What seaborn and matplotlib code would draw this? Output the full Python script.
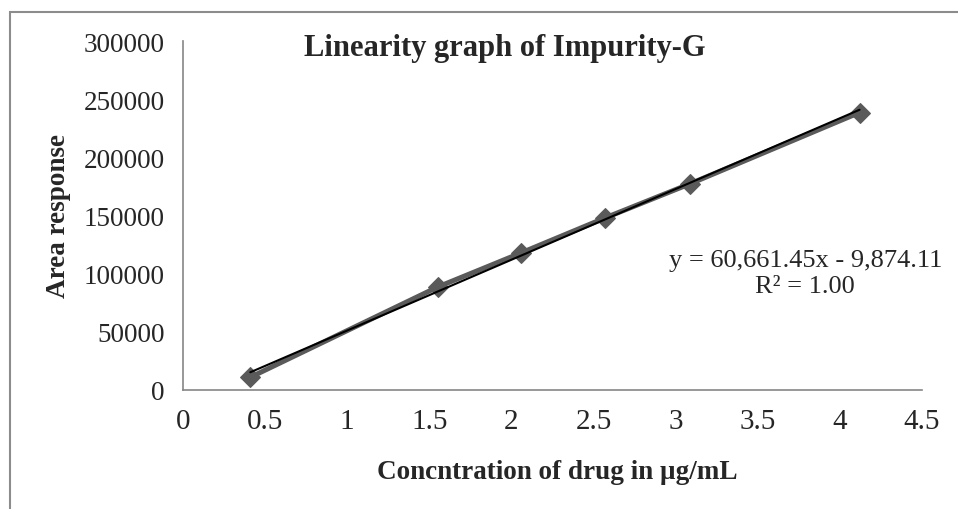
import numpy as np
import pandas as pd
import matplotlib
matplotlib.use("Agg")
import matplotlib.pyplot as plt
import seaborn as sns
from matplotlib.patches import Rectangle

# data
conc = [0.41, 1.55, 2.06, 2.57, 3.09, 4.12]
area = [10700, 88300, 117800, 147800, 177300, 238500]
x_ticks = [0, 0.5, 1, 1.5, 2, 2.5, 3, 3.5, 4, 4.5]
y_ticks = [0, 50000, 100000, 150000, 200000, 250000, 300000]
title = "Linearity graph of Impurity-G"
eq_text = "y = 60,661.45x - 9,874.11\nR\u00b2 = 1.00"

sns.set_style("white")
plt.rcParams['font.family'] = ['Liberation Serif', 'DejaVu Serif']

df = pd.DataFrame({'conc': conc, 'area': area})

fig = plt.figure(figsize=(9.58, 5.10), dpi=100)
ax = fig.add_axes([0.191, 0.2339, 0.7714, 0.6837])

# outer chart frame (cropped on right/bottom)
fig.patches.append(Rectangle((10 / 958, -0.1), 1.2, 1 - 13 / 510 + 0.1,
                             transform=fig.transFigure, fill=False,
                             edgecolor='#8c8c8c', linewidth=1.5))

sns.lineplot(data=df, x='conc', y='area', ax=ax, color='#5a5a5a',
             linewidth=3.6, marker='D', markersize=10,
             markeredgecolor='#5a5a5a', zorder=2)
sns.regplot(data=df, x='conc', y='area', ax=ax, scatter=False, ci=None,
            line_kws={'color': 'black', 'linewidth': 1.5, 'zorder': 3})

ax.set_xlim(0, 4.5)
ax.set_ylim(0, 300000)
ax.set_xticks(x_ticks)
ax.set_xticklabels([f"{t:g}" for t in x_ticks], fontsize=21)
ax.set_yticks(y_ticks)
ax.set_yticklabels([str(t) for t in y_ticks], fontsize=19.5)

for side in ['top', 'right']:
    ax.spines[side].set_visible(False)
for side in ['left', 'bottom']:
    ax.spines[side].set_color('#868686')
    ax.spines[side].set_linewidth(1.2)
ax.tick_params(axis='both', direction='out', length=5, width=1.2,
               color='#868686', pad=8)

ax.set_xlabel("Concntration of drug in \u00b5g/mL", fontsize=19.5,
              fontweight='bold')
ax.xaxis.set_label_coords(0.506, -0.2)
ax.set_ylabel("Area response", fontsize=19.5, fontweight='bold')
ax.yaxis.set_label_coords(-0.152, 0.5)

ax.text(0.436, 0.982, title, transform=ax.transAxes, fontsize=22,
        fontweight='bold', ha='center', va='center')
ax.text(0.842, 0.335, eq_text, transform=ax.transAxes, fontsize=19,
        ha='center', va='center', linespacing=1.2)

fig.savefig("out.png", dpi=100)
